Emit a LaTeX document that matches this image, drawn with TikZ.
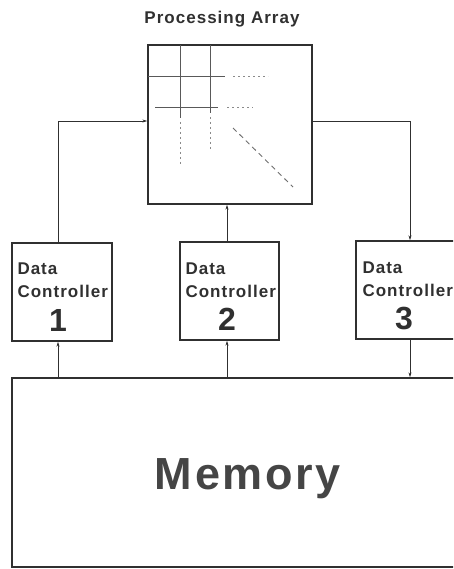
\documentclass[tikz,border=0pt]{standalone}
\usepackage{fontspec}
\setmainfont{Liberation Sans}
\newfontfamily\diagfont[LetterSpace=6]{Liberation Sans}
\usetikzlibrary{arrows.meta}
\definecolor{ink}{HTML}{303030}
\definecolor{faint}{HTML}{8A8A8A}

\begin{document}
\begin{tikzpicture}[x=1pt, y=-1pt,
    box/.style={draw=ink, line width=1.4pt, inner sep=0pt},
    conn/.style={draw=ink, line width=0.6pt, -{Stealth[length=5pt,width=3pt]}},
    lbl/.style={inner sep=0pt, text=ink, font=\diagfont\bfseries\fontsize{17}{23}\selectfont, align=left},
    num/.style={inner sep=0pt, text=ink, font=\diagfont\bfseries\fontsize{32}{32}\selectfont},
    grid/.style={draw=ink!80, line width=0.7pt},
    griddot/.style={draw=faint, line width=0.9pt, dash pattern=on 2pt off 3pt},
    diag/.style={draw=faint!80!black, line width=0.9pt, dash pattern=on 5pt off 4pt}]
  \useasboundingbox (0,0) rectangle (453,569);
  \clip (0,0) rectangle (453,569);

  % boxes
  \node[box, minimum width=164pt, minimum height=159pt] (pa) at (230,124.5) {};
  \node[box, minimum width=100pt, minimum height=98pt] (dc1) at (62,292) {};
  \node[box, minimum width=99pt, minimum height=98pt] (dc2) at (229.5,291) {};
  \node[box, minimum width=104pt, minimum height=98pt] (dc3) at (408,290) {};
  \node[box, minimum width=458pt, minimum height=189pt] (mem) at (241,472.5) {};

  % texts
  \node[lbl, anchor=base] (title) at (222,24) {Processing Array};
  \node[lbl, anchor=north west] (dc1lbl) at ([xshift=6pt,yshift=-20pt]dc1.north west) {Data\\Controller};
  \node[num, anchor=base] (dc1num) at ([xshift=-4pt,yshift=-89pt]dc1.north) {1};
  \node[lbl, anchor=north west] (dc2lbl) at ([xshift=6pt,yshift=-21pt]dc2.north west) {Data\\Controller};
  \node[num, anchor=base] (dc2num) at ([xshift=-2.5pt,yshift=-89pt]dc2.north) {2};
  \node[lbl, anchor=north west] (dc3lbl) at ([xshift=7pt,yshift=-21pt]dc3.north west) {Data\\Controller};
  \node[num, anchor=base] (dc3num) at ([xshift=-4pt,yshift=-89pt]dc3.north) {3};
  \node[inner sep=0pt, text=ink!90, font=\diagfont\bfseries\fontsize{45}{45}\selectfont, anchor=base] (memlbl) at (248,489) {Memory};

  % array inside
  \draw[grid] (180,45) -- (180,118);
  \draw[grid] (210,45) -- (210,113);
  \draw[grid] (148,76) -- (225,76);
  \draw[grid] (155,107) -- (218,107);
  \draw[griddot] (180,122) -- (180,165);
  \draw[griddot] (210,117) -- (210,150);
  \draw[griddot] (233,76) -- (268,76);
  \draw[griddot] (227,107) -- (253,107);
  \draw[diag] (233,128) -- (293,187);

  % connectors
  \draw[conn] ([xshift=-4pt]dc1.north) |- ([yshift=3.5pt]pa.west);
  \draw[conn] ([xshift=-2.5pt]dc2.north) -- ([xshift=-2.5pt]dc2.north |- pa.south);
  \draw[conn] ([yshift=3.5pt]pa.east) -| ([xshift=2pt]dc3.north);
  \draw[conn] ([xshift=-4pt]dc1.south |- mem.north) -- ([xshift=-4pt]dc1.south);
  \draw[conn] ([xshift=-2.5pt]dc2.south |- mem.north) -- ([xshift=-2.5pt]dc2.south);
  \draw[conn] ([xshift=2pt]dc3.south) -- ([xshift=2pt]dc3.south |- mem.north);
\end{tikzpicture}
\end{document}
